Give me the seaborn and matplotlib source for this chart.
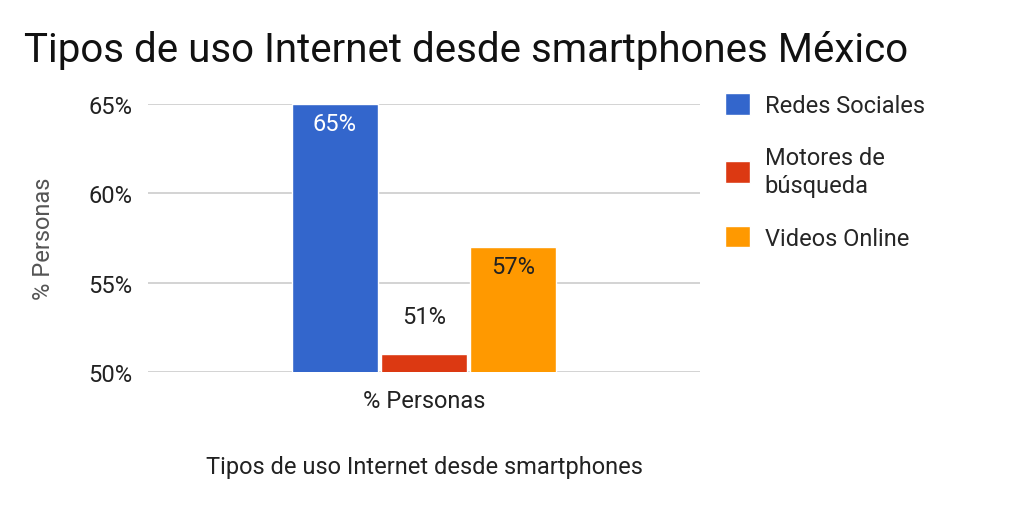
import pandas as pd
import matplotlib
matplotlib.use("Agg")
import matplotlib.pyplot as plt
import seaborn as sns

# chart data
categoria = ["% Personas"]
series = ["Redes Sociales", "Motores de\nbúsqueda", "Videos Online"]
valores = [65, 51, 57]
colores = ["#3366cc", "#dc3912", "#ff9900"]
y_ticks = [50, 55, 60, 65]

df = pd.DataFrame({
    "cat": categoria * len(series),
    "serie": series,
    "valor": valores,
})

sns.set_theme(style="white")
plt.rcParams["font.family"] = ["Roboto", "DejaVu Sans"]

fig = plt.figure(figsize=(10.16, 5.06), dpi=100)
ax = fig.add_axes([0.1457, 0.2628, 0.5433, 0.5297])

sns.barplot(data=df, x="cat", y="valor", hue="serie", palette=colores,
            width=0.485, gap=0.035, saturation=1, ax=ax, legend=True)

ax.set_xlim(-0.5, 0.5)
ax.set_ylim(50, 65)
ax.set_yticks(y_ticks)
ax.set_yticklabels([f"{v}%" for v in y_ticks], fontsize=17, color="#222222")
ax.tick_params(axis="y", length=0, pad=11)
ax.tick_params(axis="x", length=0, pad=12, labelsize=17, labelcolor="#222222")
ax.grid(axis="y", color="#cccccc", linewidth=1.2)
ax.set_axisbelow(True)
for s in ax.spines.values():
    s.set_visible(False)

ax.set_ylabel("% Personas", fontsize=17, color="#555555", labelpad=24)
ax.set_xlabel("Tipos de uso Internet desde smartphones", fontsize=17,
              color="#222222", labelpad=31)

# data labels
for bar, v, c in zip(ax.patches, valores, ["white", "#222222", "#222222"]):
    x = bar.get_x() + bar.get_width() / 2
    if v - 50 > 2:
        ax.annotate(f"{v}%", (x, v), xytext=(0, -14), textcoords="offset points",
                    ha="center", va="center", fontsize=17, color=c)
    else:
        ax.annotate(f"{v}%", (x, v), xytext=(0, 27), textcoords="offset points",
                    ha="center", va="center", fontsize=17, color=c)

handles, labels = ax.get_legend_handles_labels()
ax.legend_.remove()
leg = fig.legend(handles, labels, loc="upper left", bbox_to_anchor=(0.704, 0.832),
                 frameon=False, fontsize=17, handlelength=1.05, handleheight=1.05,
                 handletextpad=0.65, labelspacing=1.2, borderaxespad=0)
for t in leg.get_texts():
    t.set_linespacing(1.3)

fig.text(0.024, 0.9, "Tipos de uso Internet desde smartphones México",
         fontsize=29, color="#111111", ha="left", va="center")

fig.savefig("out.png", dpi=100)
